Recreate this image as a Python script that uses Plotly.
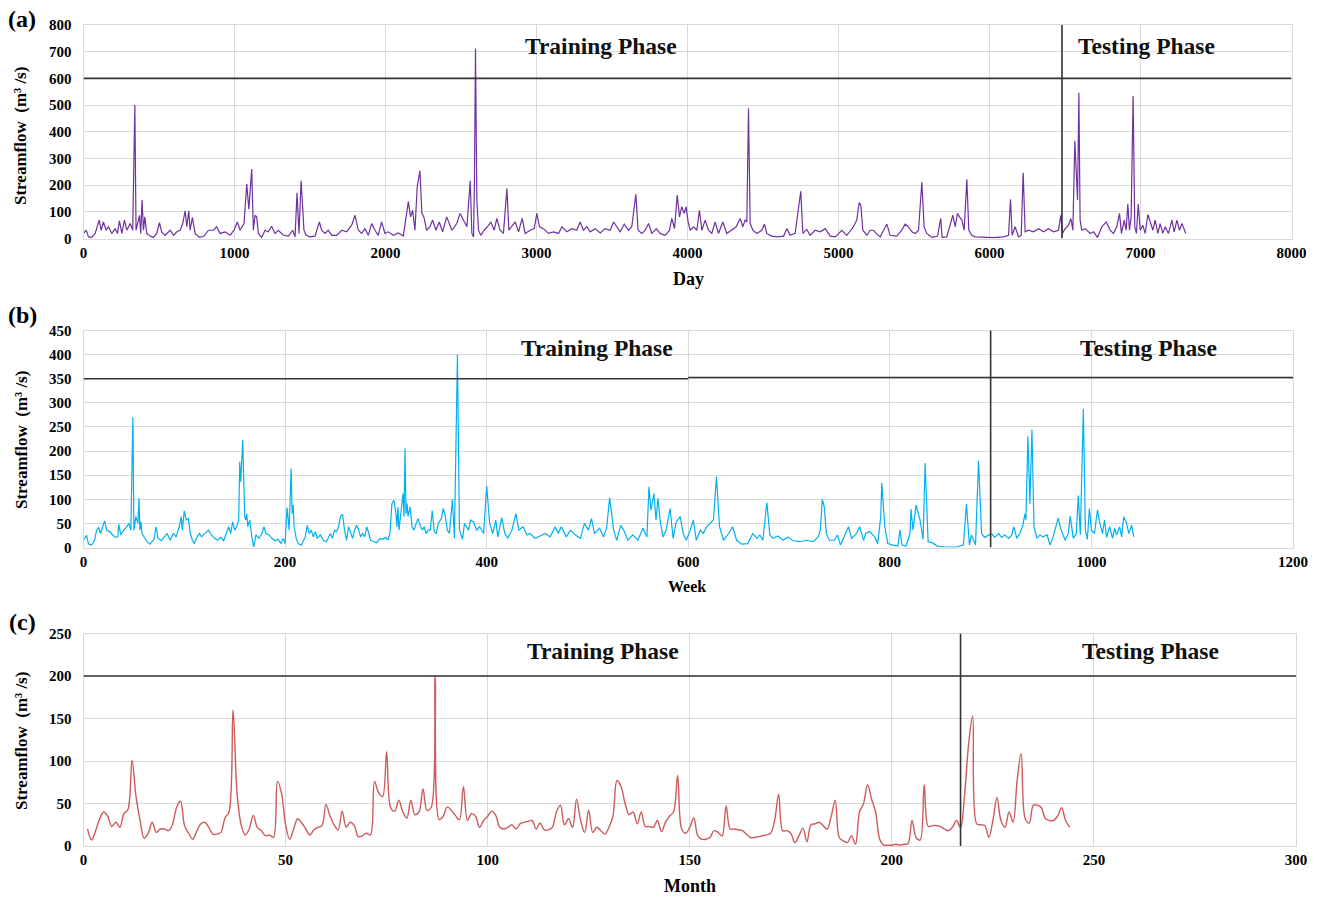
import plotly.graph_objects as go

# ---------------- data ----------------
day_x = [0, 18, 33, 55, 77, 93, 104, 117, 132, 150, 165, 188, 210, 225, 238, 254, 271, 287, 309, 326,
         340, 348, 371, 379, 388, 397, 406, 419, 441, 463, 485, 503, 518, 540, 574, 596, 618, 640, 657, 673,
         684, 697, 706, 721, 739, 768, 799, 827, 860, 882, 904, 938, 971, 997, 1019, 1037, 1063, 1081, 1095, 1114,
         1125, 1136, 1147, 1158, 1180, 1202, 1224, 1246, 1268, 1290, 1324, 1357, 1385, 1401, 1414, 1427, 1441, 1452, 1460, 1474,
         1500, 1533, 1562, 1577, 1599, 1621, 1644, 1677, 1710, 1743, 1776, 1798, 1820, 1842, 1864, 1886, 1908, 1930, 1952, 1974,
         1996, 2018, 2052, 2085, 2118, 2140, 2151, 2166, 2180, 2195, 2210, 2228, 2241, 2254, 2272, 2294, 2312, 2334, 2356, 2378,
         2405, 2440, 2472, 2494, 2517, 2539, 2561, 2572, 2583, 2589, 2596, 2605, 2616, 2631, 2653, 2675, 2698, 2720, 2737, 2759,
         2781, 2804, 2817, 2837, 2859, 2881, 2905, 2925, 2958, 2985, 3002, 3020, 3046, 3079, 3113, 3146, 3168, 3201, 3234, 3267,
         3289, 3311, 3333, 3355, 3389, 3422, 3455, 3488, 3510, 3532, 3554, 3581, 3609, 3631, 3658, 3673, 3698, 3720, 3742, 3764,
         3793, 3819, 3852, 3881, 3896, 3914, 3932, 3947, 3962, 3978, 3991, 4004, 4018, 4040, 4062, 4079, 4095, 4117, 4139, 4161,
         4183, 4205, 4234, 4260, 4294, 4322, 4349, 4366, 4382, 4393, 4404, 4415, 4433, 4459, 4492, 4510, 4525, 4558, 4592, 4636,
         4658, 4680, 4713, 4750, 4764, 4790, 4812, 4845, 4879, 4912, 4945, 4978, 5022, 5055, 5099, 5121, 5137, 5148, 5161, 5188,
         5210, 5232, 5249, 5276, 5320, 5342, 5386, 5419, 5441, 5463, 5486, 5508, 5530, 5552, 5567, 5585, 5618, 5656, 5677, 5686,
         5717, 5744, 5757, 5773, 5788, 5801, 5817, 5832, 5850, 5863, 5883, 5905, 5960, 6026, 6093, 6126, 6139, 6150, 6170, 6192,
         6210, 6223, 6236, 6258, 6291, 6325, 6358, 6391, 6424, 6457, 6472, 6483, 6501, 6523, 6539, 6552, 6565, 6574, 6583, 6592,
         6600, 6611, 6634, 6667, 6689, 6715, 6744, 6773, 6799, 6821, 6843, 6861, 6874, 6892, 6905, 6916, 6927, 6938, 6951, 6962,
         6973, 6985, 6998, 7015, 7031, 7049, 7064, 7082, 7097, 7115, 7130, 7148, 7163, 7185, 7208, 7223, 7241, 7258, 7274, 7289,
         7300]
day_q = [19, 31, 6, 4, 19, 44, 69, 31, 62, 31, 44, 19, 37, 19, 66, 19, 69, 31, 56, 31,
         500, 31, 87, 19, 144, 31, 81, 19, 9, 4, 19, 59, 25, 12, 31, 12, 25, 31, 56, 104,
         44, 104, 31, 79, 19, 4, 9, 31, 31, 44, 19, 25, 12, 31, 62, 31, 56, 204, 110, 260,
         31, 87, 81, 19, 4, 31, 25, 46, 19, 31, 12, 9, 31, 6, 171, 19, 216, 112, 31, 12,
         6, 9, 62, 31, 19, 31, 12, 12, 31, 25, 50, 87, 31, 19, 37, 12, 56, 31, 12, 62,
         19, 25, 12, 21, 9, 94, 138, 81, 106, 31, 194, 254, 94, 81, 31, 44, 69, 31, 62, 25,
         81, 31, 56, 94, 69, 44, 216, 19, 6, 212, 712, 144, 31, 12, 31, 44, 62, 31, 75, 31,
         19, 187, 31, 44, 62, 25, 75, 19, 31, 37, 94, 44, 37, 19, 25, 19, 44, 25, 37, 31,
         62, 31, 44, 25, 37, 21, 37, 31, 62, 44, 25, 54, 31, 44, 166, 31, 19, 31, 56, 19,
         37, 19, 12, 31, 75, 37, 163, 81, 119, 94, 119, 62, 31, 44, 31, 106, 31, 69, 31, 19,
         62, 19, 62, 19, 31, 44, 75, 44, 69, 62, 487, 56, 31, 19, 31, 54, 19, 9, 6, 9,
         37, 12, 19, 177, 19, 34, 12, 31, 25, 37, 9, 6, 31, 12, 44, 69, 135, 125, 31, 12,
         31, 31, 19, 6, 54, 12, 9, 31, 54, 44, 25, 19, 31, 212, 44, 19, 4, 9, 75, 4,
         6, 56, 87, 44, 94, 81, 69, 31, 222, 31, 12, 6, 4, 3, 6, 12, 147, 12, 44, 6,
         12, 246, 25, 31, 25, 37, 25, 37, 25, 31, 87, 19, 37, 50, 75, 31, 365, 250, 144, 546,
         69, 31, 37, 19, 25, 4, 44, 62, 31, 19, 44, 94, 19, 69, 31, 129, 31, 81, 534, 44,
         19, 129, 31, 50, 19, 90, 62, 31, 69, 19, 56, 19, 44, 19, 69, 25, 69, 31, 56, 31,
         19]

week_x = [0, 3, 5, 8, 11, 13, 15, 17, 19, 21, 23, 26, 29, 32, 34, 35, 37, 40, 43, 45,
          47, 49, 50, 52, 54, 55, 56, 57, 58, 60, 63, 66, 70, 72, 74, 77, 80, 83, 86, 89,
          92, 95, 97, 98, 100, 102, 104, 106, 108, 110, 112, 115, 117, 120, 124, 127, 130, 133, 136, 139,
          142, 144, 146, 148, 150, 152, 154, 155, 156, 157, 158, 159, 160, 161, 162, 163, 165, 167, 169, 171,
          174, 177, 179, 181, 184, 187, 190, 193, 196, 198, 200, 202, 204, 206, 207, 208, 209, 211, 213, 216,
          218, 220, 222, 224, 226, 228, 230, 232, 235, 238, 241, 243, 245, 247, 249, 251, 253, 255, 257, 259,
          261, 263, 265, 267, 269, 271, 273, 275, 277, 279, 281, 283, 285, 288, 291, 294, 297, 300, 302, 304,
          306, 308, 310, 311, 312, 313, 315, 317, 318, 319, 320, 321, 322, 324, 326, 328, 330, 332, 334, 336,
          338, 340, 342, 344, 346, 348, 350, 352, 355, 357, 359, 361, 363, 366, 368, 371, 373, 376, 378, 382,
          384, 387, 390, 393, 397, 400, 403, 406, 409, 411, 415, 418, 421, 425, 429, 432, 436, 440, 443, 448,
          453, 458, 463, 468, 471, 474, 479, 483, 488, 493, 497, 501, 504, 507, 512, 516, 519, 522, 526, 529,
          533, 536, 540, 545, 550, 555, 559, 561, 563, 566, 568, 570, 572, 575, 578, 582, 585, 588, 592, 595,
          598, 602, 605, 608, 612, 615, 618, 621, 625, 628, 631, 635, 640, 644, 648, 653, 659, 664, 668, 671,
          674, 678, 681, 684, 689, 694, 699, 704, 711, 717, 724, 729, 731, 733, 735, 737, 740, 745, 748, 751,
          755, 759, 762, 767, 770, 774, 776, 780, 785, 788, 791, 792, 795, 798, 803, 808, 810, 812, 816, 820,
          821, 823, 826, 830, 833, 835, 838, 842, 847, 856, 866, 873, 876, 879, 881, 885, 888, 891, 894, 898,
          901, 904, 908, 911, 914, 918, 921, 923, 926, 929, 932, 934, 935, 937, 939, 941, 943, 946, 949, 952,
          956, 959, 962, 967, 970, 974, 977, 979, 982, 985, 987, 989, 992, 994, 996, 998, 1000, 1003, 1006, 1008,
          1011, 1013, 1015, 1018, 1021, 1023, 1025, 1028, 1030, 1032, 1035, 1037, 1040, 1042]
week_q = [15, 25, 7, 5, 15, 36, 42, 29, 43, 55, 36, 33, 26, 21, 22, 48, 26, 36, 43, 50,
          36, 270, 36, 64, 50, 102, 36, 53, 29, 22, 12, 7, 17, 43, 19, 14, 22, 29, 15, 29,
          22, 43, 64, 36, 76, 57, 60, 29, 15, 8, 19, 29, 22, 29, 36, 26, 19, 15, 21, 14,
          29, 43, 29, 53, 36, 43, 57, 178, 136, 185, 223, 140, 64, 57, 70, 43, 57, 22, 1, 26,
          19, 29, 43, 29, 26, 19, 14, 17, 8, 19, 8, 83, 36, 164, 70, 88, 43, 19, 8, 5,
          15, 22, 46, 29, 36, 22, 33, 19, 26, 15, 12, 21, 29, 19, 36, 33, 43, 64, 69, 36,
          15, 43, 29, 19, 36, 46, 36, 22, 29, 22, 43, 29, 15, 12, 10, 19, 17, 21, 15, 29,
          91, 98, 70, 43, 84, 36, 70, 112, 64, 206, 70, 91, 64, 84, 43, 36, 50, 60, 46, 36,
          43, 29, 36, 36, 76, 33, 29, 50, 60, 81, 64, 36, 29, 100, 19, 400, 36, 17, 50, 36,
          57, 53, 36, 43, 29, 128, 50, 29, 57, 22, 62, 29, 19, 36, 70, 36, 43, 26, 29, 19,
          24, 29, 22, 43, 29, 43, 22, 36, 26, 19, 50, 36, 60, 29, 40, 22, 40, 103, 36, 15,
          46, 36, 15, 26, 15, 40, 22, 126, 78, 112, 57, 102, 57, 22, 36, 81, 19, 53, 64, 29,
          15, 36, 57, 15, 36, 29, 43, 50, 57, 147, 43, 15, 29, 43, 15, 7, 8, 29, 19, 26,
          15, 93, 26, 19, 24, 15, 22, 14, 12, 15, 12, 22, 36, 100, 84, 29, 15, 15, 26, 5,
          26, 43, 19, 29, 43, 15, 29, 33, 22, 8, 64, 134, 43, 8, 5, 3, 36, 5, 3, 29,
          79, 36, 88, 57, 17, 175, 12, 10, 3, 1, 1, 5, 90, 5, 26, 5, 180, 29, 21, 26,
          29, 21, 29, 21, 26, 19, 26, 43, 19, 29, 46, 70, 57, 230, 91, 244, 43, 19, 26, 22,
          26, 5, 22, 61, 36, 15, 29, 65, 19, 29, 108, 26, 287, 36, 17, 81, 36, 29, 78, 53,
          29, 57, 21, 43, 19, 40, 26, 43, 22, 64, 50, 29, 46, 22]

month_q = [20, 7, 18, 32, 40, 35, 23, 28, 22, 38, 43, 101, 58, 30, 9, 15, 28, 16, 20, 20,
           18, 25, 45, 53, 24, 15, 8, 17, 26, 28, 22, 14, 14, 16, 33, 40, 160, 62, 25, 13,
           20, 36, 22, 18, 12, 13, 10, 76, 62, 25, 8, 20, 32, 27, 20, 13, 19, 22, 24, 49,
           35, 25, 19, 41, 22, 28, 24, 11, 12, 15, 13, 76, 63, 58, 111, 45, 41, 54, 40, 33,
           54, 37, 40, 67, 42, 45, 200, 31, 35, 46, 42, 36, 31, 70, 30, 38, 35, 22, 30, 35,
           41, 36, 22, 20, 22, 25, 20, 26, 28, 29, 30, 20, 27, 19, 19, 22, 40, 48, 25, 32,
           22, 55, 30, 16, 42, 16, 22, 18, 14, 22, 35, 77, 70, 50, 37, 40, 26, 40, 23, 23,
           22, 30, 17, 28, 35, 40, 83, 20, 15, 22, 33, 12, 8, 8, 10, 18, 16, 12, 47, 20,
           20, 19, 18, 14, 10, 10, 11, 12, 13, 15, 30, 61, 18, 18, 15, 4, 12, 21, 5, 25,
           26, 28, 24, 20, 35, 54, 10, 6, 4, 12, 2, 40, 50, 72, 55, 40, 8, 1, 1, 1,
           2, 1, 2, 3, 30, 10, 7, 72, 23, 24, 24, 23, 20, 18, 22, 30, 22, 60, 120, 153,
           26, 25, 24, 10, 30, 57, 30, 22, 40, 28, 77, 109, 32, 27, 48, 48, 45, 32, 30, 30,
           35, 45, 30, 22]
month_x = list(range(1, len(month_q) + 1))

phase_labels = ["Training Phase", "Testing Phase"]
panel_tags = ["(a)", "(b)", "(c)"]
x_titles = ["Day", "Week", "Month"]
y_title = "Streamflow  (m\u00b3 /s)"
split_points = [6480, 900, 217]
top_lines = [600, 350, 200]
x_ranges = [[0, 8000], [0, 1200], [0, 300]]
y_ranges = [[0, 800], [0, 450], [0, 250]]
x_dticks = [1000, 200, 50]
y_dticks = [100, 50, 50]

# ---------------- layout geometry (pixels) ----------------
W, H = 1323, 897
boxes = [  # left, right, top, bottom
    (83.5, 1291.5, 25, 238.5),
    (83.5, 1293, 330.5, 547.5),
    (83.5, 1296, 633.5, 846),
]
colors = ["#7030A0", "#00B0F0", "#CD5B5B"]
SERIF = "Liberation Serif, Times New Roman, serif"
GRID = "#D9D9D9"

fig = go.Figure()
series = [(day_x, day_q, "linear"), (week_x, week_q, "linear"), (month_x, month_q, "spline")]
for i, (xs, ys, shp) in enumerate(series):
    sfx = "" if i == 0 else str(i + 1)
    fig.add_trace(go.Scatter(x=xs, y=ys, mode="lines",
                             line=dict(color=colors[i], width=1.2 if i < 2 else 1.4, shape=shp),
                             xaxis="x" + sfx, yaxis="y" + sfx, showlegend=False))

layout = dict(width=W, height=H, margin=dict(l=0, r=0, t=0, b=0, autoexpand=False),
              paper_bgcolor="white", plot_bgcolor="white", showlegend=False)
shapes, annos = [], []
for i, (l, r, t, b) in enumerate(boxes):
    sfx = "" if i == 0 else str(i + 1)
    xa = dict(domain=[l / W, r / W], range=x_ranges[i], dtick=x_dticks[i], tick0=0,
              showgrid=True, gridcolor=GRID, gridwidth=1, zeroline=False,
              showline=True, linecolor=GRID, linewidth=1, mirror=True,
              ticks="", ticklabelstandoff=0, automargin=False,
              tickfont=dict(family=SERIF, size=15, color="black", weight="bold"),
              anchor="y" + sfx, fixedrange=True)
    ya = dict(domain=[1 - b / H, 1 - t / H], range=y_ranges[i], dtick=y_dticks[i], tick0=0,
              showgrid=True, gridcolor=GRID, gridwidth=1, zeroline=False,
              showline=True, linecolor=GRID, linewidth=1, mirror=True,
              ticks="", ticklabelstandoff=8, automargin=False,
              tickfont=dict(family=SERIF, size=15, color="black", weight="bold"),
              anchor="x" + sfx, fixedrange=True)
    layout["xaxis" + sfx] = xa
    layout["yaxis" + sfx] = ya
    xr, yr = "x" + sfx, "y" + sfx
    xmax = x_ranges[i][1]
    ymax = y_ranges[i][1]
    # horizontal phase line
    if i == 1:
        shapes.append(dict(type="line", xref=xr, yref=yr, x0=0, x1=600, y0=top_lines[i], y1=top_lines[i],
                           line=dict(color="#333333", width=1.6)))
        shapes.append(dict(type="line", xref=xr, yref=yr, x0=600, x1=xmax, y0=top_lines[i] + 2.5,
                           y1=top_lines[i] + 2.5, line=dict(color="#333333", width=1.6)))
    else:
        shapes.append(dict(type="line", xref=xr, yref=yr, x0=0, x1=xmax, y0=top_lines[i], y1=top_lines[i],
                           line=dict(color="#333333", width=1.6)))
    # vertical split line
    shapes.append(dict(type="line", xref=xr, yref=yr, x0=split_points[i], x1=split_points[i],
                       y0=0, y1=ymax, line=dict(color="#333333", width=1.6)))

# phase label positions (pixel centres)
phase_px = [((601, 46), (1146, 46)), ((597, 348), (1148, 348)), ((603, 651), (1150, 651))]
for i, pair in enumerate(phase_px):
    for j, (px, py) in enumerate(pair):
        annos.append(dict(text="<b>" + phase_labels[j] + "</b>", xref="paper", yref="paper",
                          x=px / W, y=1 - py / H, xanchor="center", yanchor="middle", showarrow=False,
                          font=dict(family=SERIF, size=23.5, color="#111111")))

# panel tags
for i, py in enumerate([19, 315, 622]):
    annos.append(dict(text="<b>" + panel_tags[i] + "</b>", xref="paper", yref="paper",
                      x=22 / W, y=1 - py / H, xanchor="center", yanchor="middle", showarrow=False,
                      font=dict(family=SERIF, size=24, color="black")))

# x titles
for i, (px, py, sz) in enumerate([(688, 279, 18), (687, 586, 16), (690, 886, 18)]):
    annos.append(dict(text="<b>" + x_titles[i] + "</b>", xref="paper", yref="paper",
                      x=px / W, y=1 - py / H, xanchor="center", yanchor="middle", showarrow=False,
                      font=dict(family=SERIF, size=sz, color="black")))

# y titles
for i, py in enumerate([136, 440, 741]):
    annos.append(dict(text="<b>" + y_title + "</b>", xref="paper", yref="paper",
                      x=21 / W, y=1 - py / H, xanchor="center", yanchor="middle", showarrow=False,
                      textangle=-90, font=dict(family=SERIF, size=17, color="black")))

layout["shapes"] = shapes
layout["annotations"] = annos
fig.update_layout(**layout)
fig.write_html("out.html")
